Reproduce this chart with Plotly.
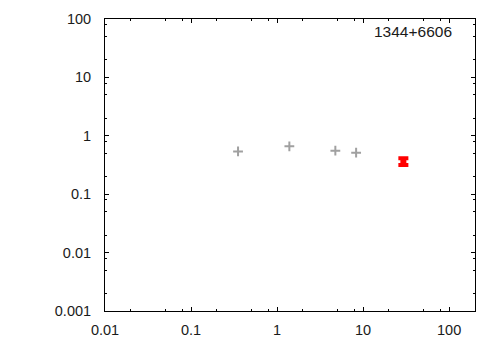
import plotly.graph_objects as go

# Data
gray_x = [0.352, 1.39, 4.76, 8.3]
gray_y = [0.54, 0.66, 0.556, 0.514]
red_x = [29.4]
red_y = [0.365]
red_err_plus = [0.048]
red_err_minus = [0.05]
label = "1344+6606"

x_major = [0.01, 0.1, 1, 10, 100]
x_major_text = ["0.01", "0.1", "1", "10", "100"]
y_major = [0.001, 0.01, 0.1, 1, 10, 100]
y_major_text = ["0.001", "0.01", "0.1", "1", "10", "100"]
minor_factors = [2, 5, 8]

x_minor = [m * f for m in x_major for f in minor_factors]
y_minor = [m * f for m in y_major[:-1] for f in minor_factors]

fig = go.Figure()
fig.add_trace(go.Scatter(
    x=gray_x, y=gray_y, mode="markers",
    marker=dict(symbol="cross-thin", size=7,
                line=dict(width=2, color="rgb(160,160,160)"),
                color="rgb(160,160,160)"),
    showlegend=False, hoverinfo="x+y"))
fig.add_trace(go.Scatter(
    x=red_x, y=red_y, mode="markers",
    marker=dict(symbol="square", size=6, color="red", line=dict(width=0)),
    error_y=dict(type="data", symmetric=False, array=red_err_plus,
                 arrayminus=red_err_minus, color="red", thickness=4, width=5),
    showlegend=False, hoverinfo="x+y"))

font = dict(family="Liberation Sans, Arial, sans-serif", size=14.5, color="#1a1a1a")

axis_common = dict(
    type="log", showgrid=False, zeroline=False,
    showline=True, linecolor="black", linewidth=1, mirror="ticks",
    ticks="inside", ticklen=4, tickwidth=1, tickcolor="black",
    tickfont=font,
)
fig.update_xaxes(**axis_common, range=[-2, 2.301], ticklabelstandoff=6,
                 tickmode="array", tickvals=x_major, ticktext=x_major_text,
                 minor=dict(tickmode="array", tickvals=x_minor, ticks="inside",
                            ticklen=2, tickcolor="black", tickwidth=1))
fig.update_yaxes(**axis_common, range=[-3, 2], ticklabelstandoff=10,
                 tickmode="array", tickvals=y_major, ticktext=y_major_text,
                 minor=dict(tickmode="array", tickvals=y_minor, ticks="inside",
                            ticklen=2, tickcolor="black", tickwidth=1))

fig.add_annotation(text=label, xref="paper", yref="paper",
                   x=0.944, y=0.958, xanchor="right", yanchor="middle",
                   showarrow=False,
                   font=dict(family=font["family"], size=15.5, color="#1a1a1a"))

fig.update_layout(
    width=500, height=350,
    margin=dict(l=105, r=25, t=19, b=39),
    paper_bgcolor="white", plot_bgcolor="white",
)

fig.write_html("out.html")
